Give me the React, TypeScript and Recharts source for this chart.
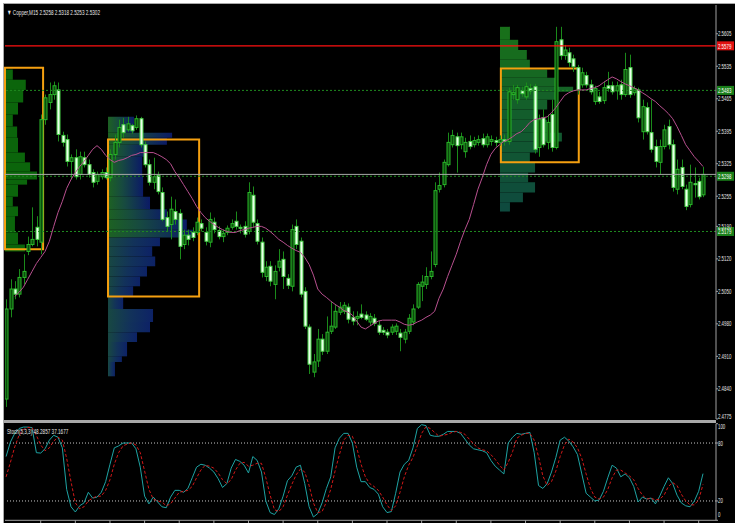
import { ComposedChart, LineChart, Bar, Line, XAxis, YAxis, ReferenceLine, ReferenceArea } from 'recharts'

// Copper M15 candles, one entry per bar (left to right)
const opens = [
  2.4818, 2.5012, 2.5055, 2.5044, 2.5080, 2.5136, 2.5151, 2.5188, 2.5156, 2.5420,
  2.5457, 2.5474, 2.5484, 2.5386, 2.5377, 2.5330, 2.5338, 2.5302, 2.5338, 2.5323,
  2.5306, 2.5287, 2.5297, 2.5306, 2.5295, 2.5345, 2.5371, 2.5409, 2.5398, 2.5407,
  2.5403, 2.5422, 2.5366, 2.5323, 2.5285, 2.5300, 2.5263, 2.5209, 2.5194, 2.5222,
  2.5218, 2.5151, 2.5171, 2.5177, 2.5177, 2.5196, 2.5177, 2.5156, 2.5199, 2.5181,
  2.5168, 2.5177, 2.5188, 2.5201, 2.5188, 2.5190, 2.5179, 2.5257, 2.5196, 2.5156,
  2.5082, 2.5104, 2.5065, 2.5102, 2.5119, 2.5078, 2.5061, 2.5190, 2.5158, 2.5050,
  2.4973, 2.4876, 2.4900, 2.4947, 2.4921, 2.4964, 2.4973, 2.5005, 2.5007, 2.5016,
  2.4994, 2.4992, 2.5001, 2.4999, 2.4984, 2.4992, 2.4977, 2.4966, 2.4962, 2.4962,
  2.4964, 2.4960, 2.4947, 2.4964, 2.4984, 2.5016, 2.5061, 2.5065, 2.5082, 2.5108,
  2.5270, 2.5280, 2.5323, 2.5366, 2.5383, 2.5366, 2.5351, 2.5373, 2.5366, 2.5371,
  2.5379, 2.5366, 2.5373, 2.5375, 2.5371, 2.5377, 2.5373, 2.5474, 2.5463, 2.5482,
  2.5469, 2.5487, 2.5491, 2.5360, 2.5424, 2.5371, 2.5431, 2.5360, 2.5592, 2.5558,
  2.5564, 2.5551, 2.5532, 2.5495, 2.5515, 2.5495, 2.5459, 2.5469, 2.5461, 2.5493,
  2.5493, 2.5482, 2.5495, 2.5474, 2.5532, 2.5478, 2.5484, 2.5394, 2.5446, 2.5392,
  2.5362, 2.5328, 2.5362, 2.5405, 2.5366, 2.5270, 2.5317, 2.5270, 2.5237, 2.5282,
  2.5287, 2.5258,
]
const highs = [
  2.5033, 2.5076, 2.5072, 2.5098, 2.5130, 2.5168, 2.5231, 2.5212, 2.5431, 2.5474,
  2.5500, 2.5502, 2.5500, 2.5394, 2.5388, 2.5345, 2.5356, 2.5351, 2.5351, 2.5334,
  2.5313, 2.5308, 2.5313, 2.5317, 2.5356, 2.5388, 2.5420, 2.5424, 2.5426, 2.5411,
  2.5429, 2.5426, 2.5373, 2.5334, 2.5338, 2.5308, 2.5274, 2.5222, 2.5254, 2.5248,
  2.5227, 2.5183, 2.5183, 2.5188, 2.5209, 2.5205, 2.5188, 2.5220, 2.5209, 2.5190,
  2.5183, 2.5192, 2.5205, 2.5222, 2.5194, 2.5201, 2.5285, 2.5276, 2.5205, 2.5166,
  2.5115, 2.5115, 2.5106, 2.5141, 2.5136, 2.5087, 2.5194, 2.5205, 2.5166, 2.5059,
  2.4979, 2.4915, 2.4969, 2.4958, 2.4996, 2.5027, 2.5022, 2.5027, 2.5027, 2.5024,
  2.5007, 2.5007, 2.5022, 2.5007, 2.5003, 2.5001, 2.4986, 2.4973, 2.4969, 2.4979,
  2.4981, 2.4969, 2.4969, 2.5001, 2.5022, 2.5070, 2.5085, 2.5102, 2.5136, 2.5285,
  2.5306, 2.5334, 2.5392, 2.5398, 2.5392, 2.5392, 2.5381, 2.5386, 2.5383, 2.5386,
  2.5390, 2.5390, 2.5386, 2.5383, 2.5386, 2.5388, 2.5489, 2.5495, 2.5495, 2.5491,
  2.5500, 2.5497, 2.5497, 2.5431, 2.5442, 2.5431, 2.5463, 2.5620, 2.5620, 2.5581,
  2.5575, 2.5560, 2.5538, 2.5532, 2.5523, 2.5506, 2.5493, 2.5480, 2.5502, 2.5523,
  2.5502, 2.5502, 2.5506, 2.5564, 2.5560, 2.5493, 2.5489, 2.5463, 2.5457, 2.5463,
  2.5377, 2.5377, 2.5409, 2.5420, 2.5377, 2.5334, 2.5334, 2.5280, 2.5323, 2.5317,
  2.5295, 2.5318,
]
const lows = [
  2.4801, 2.4994, 2.5033, 2.5037, 2.5065, 2.5128, 2.5147, 2.5147, 2.5130, 2.5409,
  2.5442, 2.5463, 2.5373, 2.5362, 2.5319, 2.5291, 2.5291, 2.5291, 2.5317, 2.5295,
  2.5274, 2.5280, 2.5291, 2.5291, 2.5287, 2.5334, 2.5360, 2.5381, 2.5394, 2.5390,
  2.5398, 2.5360, 2.5317, 2.5278, 2.5270, 2.5259, 2.5201, 2.5179, 2.5162, 2.5194,
  2.5119, 2.5141, 2.5149, 2.5158, 2.5171, 2.5179, 2.5149, 2.5145, 2.5175, 2.5162,
  2.5156, 2.5171, 2.5183, 2.5183, 2.5175, 2.5166, 2.5173, 2.5188, 2.5151, 2.5080,
  2.5072, 2.5061, 2.5033, 2.5093, 2.5055, 2.5055, 2.5050, 2.5141, 2.5037, 2.4969,
  2.4872, 2.4865, 2.4887, 2.4913, 2.4915, 2.4958, 2.4969, 2.4999, 2.5001, 2.4981,
  2.4977, 2.4977, 2.4990, 2.4986, 2.4977, 2.4975, 2.4956, 2.4956, 2.4949, 2.4956,
  2.4956, 2.4921, 2.4938, 2.4958, 2.4977, 2.5012, 2.5029, 2.5055, 2.5076, 2.5102,
  2.5263, 2.5274, 2.5319, 2.5360, 2.5306, 2.5356, 2.5338, 2.5356, 2.5360, 2.5364,
  2.5360, 2.5360, 2.5364, 2.5362, 2.5364, 2.5364, 2.5366, 2.5463, 2.5454, 2.5469,
  2.5463, 2.5474, 2.5347, 2.5340, 2.5360, 2.5356, 2.5351, 2.5356, 2.5549, 2.5549,
  2.5534, 2.5523, 2.5474, 2.5489, 2.5489, 2.5474, 2.5452, 2.5454, 2.5454, 2.5480,
  2.5474, 2.5463, 2.5463, 2.5469, 2.5467, 2.5472, 2.5414, 2.5377, 2.5388, 2.5349,
  2.5317, 2.5302, 2.5356, 2.5356, 2.5265, 2.5259, 2.5270, 2.5225, 2.5231, 2.5252,
  2.5248, 2.5253,
]
const closes = [
  2.5012, 2.5055, 2.5044, 2.5080, 2.5093, 2.5151, 2.5162, 2.5162, 2.5420, 2.5467,
  2.5474, 2.5493, 2.5388, 2.5371, 2.5330, 2.5338, 2.5297, 2.5340, 2.5323, 2.5302,
  2.5285, 2.5302, 2.5306, 2.5295, 2.5345, 2.5371, 2.5403, 2.5392, 2.5411, 2.5396,
  2.5422, 2.5366, 2.5323, 2.5285, 2.5297, 2.5265, 2.5205, 2.5190, 2.5227, 2.5205,
  2.5147, 2.5171, 2.5162, 2.5166, 2.5199, 2.5186, 2.5158, 2.5205, 2.5183, 2.5168,
  2.5175, 2.5186, 2.5196, 2.5190, 2.5186, 2.5173, 2.5263, 2.5199, 2.5158, 2.5091,
  2.5102, 2.5072, 2.5093, 2.5115, 2.5082, 2.5063, 2.5183, 2.5151, 2.5044, 2.4975,
  2.4893, 2.4898, 2.4947, 2.4921, 2.4962, 2.4975, 2.5007, 2.5016, 2.5020, 2.4990,
  2.4986, 2.4996, 2.4994, 2.4990, 2.4996, 2.4981, 2.4962, 2.4962, 2.4956, 2.4973,
  2.4975, 2.4951, 2.4962, 2.4992, 2.5012, 2.5065, 2.5070, 2.5082, 2.5093, 2.5267,
  2.5278, 2.5328, 2.5371, 2.5386, 2.5364, 2.5383, 2.5371, 2.5362, 2.5375, 2.5377,
  2.5366, 2.5383, 2.5377, 2.5371, 2.5377, 2.5373, 2.5480, 2.5478, 2.5489, 2.5476,
  2.5491, 2.5482, 2.5356, 2.5420, 2.5366, 2.5414, 2.5360, 2.5588, 2.5558, 2.5570,
  2.5543, 2.5534, 2.5484, 2.5521, 2.5495, 2.5480, 2.5487, 2.5459, 2.5489, 2.5487,
  2.5480, 2.5493, 2.5474, 2.5528, 2.5474, 2.5487, 2.5424, 2.5448, 2.5394, 2.5356,
  2.5330, 2.5362, 2.5398, 2.5366, 2.5274, 2.5313, 2.5276, 2.5233, 2.5285, 2.5280,
  2.5254, 2.5302,
]
// pink moving average
const maValues = [
  null, null, 2.5039, 2.5048, 2.5059, 2.5076, 2.5093, 2.5110, 2.5123, 2.5136,
  2.5158, 2.5190, 2.5220, 2.5244, 2.5272, 2.5291, 2.5306, 2.5319, 2.5330, 2.5343,
  2.5356, 2.5364, 2.5356, 2.5343, 2.5334, 2.5328, 2.5332, 2.5334, 2.5338, 2.5343,
  2.5345, 2.5349, 2.5349, 2.5349, 2.5349, 2.5345, 2.5340, 2.5334, 2.5325, 2.5308,
  2.5295, 2.5280, 2.5265, 2.5250, 2.5233, 2.5220, 2.5209, 2.5201, 2.5194, 2.5188,
  2.5183, 2.5179, 2.5177, 2.5177, 2.5181, 2.5183, 2.5186, 2.5188, 2.5190, 2.5190,
  2.5186, 2.5179, 2.5171, 2.5162, 2.5156, 2.5149, 2.5143, 2.5138, 2.5134, 2.5123,
  2.5108, 2.5085, 2.5055, 2.5044, 2.5037, 2.5029, 2.5022, 2.5016, 2.5009, 2.5005,
  2.4999, 2.4986, 2.4973, 2.4969, 2.4975, 2.4981, 2.4986, 2.4988, 2.4988, 2.4988,
  2.4988, 2.4984, 2.4979, 2.4977, 2.4979, 2.4984, 2.4988, 2.4994, 2.4999, 2.5007,
  2.5035, 2.5055, 2.5082, 2.5106, 2.5130, 2.5158, 2.5183, 2.5205, 2.5237, 2.5270,
  2.5295, 2.5323, 2.5345, 2.5358, 2.5366, 2.5373, 2.5377, 2.5383, 2.5390, 2.5394,
  2.5403, 2.5414, 2.5420, 2.5422, 2.5424, 2.5426, 2.5435, 2.5446, 2.5459, 2.5472,
  2.5478, 2.5482, 2.5484, 2.5484, 2.5484, 2.5487, 2.5489, 2.5493, 2.5500, 2.5506,
  2.5512, 2.5508, 2.5502, 2.5497, 2.5493, 2.5489, 2.5484, 2.5478, 2.5472, 2.5465,
  2.5459, 2.5450, 2.5442, 2.5433, 2.5422, 2.5405, 2.5386, 2.5366, 2.5353, 2.5340,
  2.5330, 2.5319,
]
// Stoch(5,3,3)
const stochMain = [
  66, 81, 90, 95, 96.5, 96.5, 96, 70, 69.6, 74,
  83, 88, 86, 75, 32, 14, 8.6, 15, 18, 29,
  23, 24, 29, 40, 58, 75, 77, 80, 80, 80,
  74, 55, 25, 17, 24, 19, 14, 13, 24, 31,
  31, 29, 33, 44, 55, 58, 57, 54, 50, 43,
  34, 38, 54, 63, 61, 57, 49, 66, 62, 50,
  20, 8, 6, 12, 25, 41, 46, 55, 57, 38,
  14, 3.4, 7, 18, 33, 45, 75, 85, 90, 90,
  80, 55, 40, 40, 34, 32, 27, 14, 8, 9,
  28, 50, 58, 62, 75, 95, 99, 98, 88, 87,
  87, 89, 92, 92, 92, 90, 84, 78, 74, 73,
  72, 70, 62, 56, 52, 48, 80, 86, 90, 89,
  90, 91, 70, 36, 33, 38, 50, 65, 83, 86,
  82, 76, 68, 48, 28, 24, 20, 21, 30, 44,
  57, 54, 45, 48, 44, 35, 19, 24, 22, 23,
  17, 25, 35, 44, 38, 26, 18, 15, 14, 20,
  30, 48.2857,
]
const stochSignal = [
  45, 60, 76, 88, 94, 96, 96, 88, 78, 72,
  75, 82, 86, 83, 64, 40, 18, 12, 14, 20,
  23, 25, 25, 31, 42, 58, 70, 77, 79, 80,
  78, 70, 51, 32, 22, 20, 19, 15, 17, 23,
  29, 30, 31, 35, 44, 52, 57, 56, 54, 49,
  42, 38, 42, 52, 59, 60, 56, 57, 59, 59,
  44, 26, 11, 9, 14, 26, 37, 47, 53, 50,
  36, 18, 8, 9, 19, 32, 51, 68, 83, 88,
  87, 75, 58, 45, 38, 35, 31, 24, 16, 10,
  15, 29, 45, 57, 65, 77, 90, 97, 95, 91,
  87, 88, 89, 91, 92, 91, 89, 84, 79, 75,
  73, 72, 68, 63, 57, 52, 60, 71, 85, 88,
  90, 90, 83, 66, 46, 36, 40, 51, 66, 78,
  84, 81, 75, 64, 48, 33, 24, 22, 24, 32,
  44, 52, 52, 49, 46, 42, 33, 26, 22, 23,
  21, 22, 26, 35, 39, 36, 27, 20, 16, 16,
  21, 37.1677,
]

const priceTicks = [2.4775, 2.484, 2.491, 2.498, 2.505, 2.512, 2.519, 2.5255, 2.5325, 2.5395, 2.5465, 2.5535, 2.5605]
const stochTicks = [0, 20, 80, 100]
const stochLevels = [20, 80]
const timeTicks = [8, 16, 24, 32, 40, 48, 56, 64, 72, 80, 88, 96, 104, 112, 120, 128, 136, 144, 152, 160]

// volume profiles: start bar, price row edges (top→bottom), row lengths in bars
const p1Start = -0.25
const p1Edges = [2.5528, 2.5506, 2.5484, 2.5457, 2.5431, 2.5405, 2.5381, 2.5349, 2.5328, 2.5308, 2.5291, 2.528, 2.5254, 2.5233, 2.5212, 2.5177, 2.5151, 2.5136]
const p1Widths = [1.8, 4.8, 4.2, 3.0, 1.8, 2.8, 3.0, 4.6, 5.8, 7.4, 5.1, 3.0, 1.8, 3.0, 2.3, 3.0, 4.6]
const p2Start = 23.55
const p2Edges = [2.5426, 2.5392, 2.5381, 2.5366, 2.534, 2.5297, 2.5254, 2.5227, 2.5205, 2.5183, 2.5166, 2.5147, 2.5125, 2.5104, 2.5082, 2.5061, 2.5039, 2.5012, 2.4984, 2.4962, 2.4941, 2.491, 2.4898, 2.4867]
const p2Widths = [6.0, 14.8, 13.6, 9.0, 7.9, 8.1, 9.7, 13.6, 18.2, 19.6, 12.0, 10.2, 10.9, 9.0, 7.4, 5.8, 3.5, 10.4, 9.7, 6.7, 4.4, 3.2, 1.6]
const p3Start = 114.1
const p3Edges = [2.562, 2.5592, 2.557, 2.5549, 2.5528, 2.551, 2.5491, 2.548, 2.5463, 2.5442, 2.542, 2.5392, 2.5373, 2.5349, 2.5328, 2.5306, 2.5285, 2.5263, 2.5242, 2.5222]
const p3Widths = [2.3, 4.2, 6.2, 6.9, 10.9, 12.7, 16.9, 13.2, 10.9, 8.8, 10.9, 14.3, 8.8, 6.9, 8.1, 6.5, 8.1, 5.3, 2.3]

// orange value-area boxes
const boxLeft = [-0.25, 23.55, 114.3]
const boxRight = [8.55, 44.6, 132.3]
const boxTop = [2.5532, 2.5377, 2.553]
const boxBottom = [2.5141, 2.5039, 2.5328]

const FONT = '"Liberation Sans", Arial, sans-serif'
const X_DOMAIN: [number, number] = [-0.25, 164]
const Y_DOMAIN: [number, number] = [2.4775, 2.5667]

function mix(a: number[], b: number[], t: number) {
  const c = a.map((v, k) => Math.round(v + (b[k] - v) * t))
  return `rgb(${c[0]},${c[1]},${c[2]})`
}

// MT4 draws its labels in a very narrow face: squeeze horizontally
function Tiny({ x, y, children, fill = '#e6e6e6', sx = 0.58 }: any) {
  return (
    <text transform={`translate(${x},${y}) scale(${sx},1)`} fill={fill} fontSize={7.5} fontFamily={FONT}>
      {children}
    </text>
  )
}

function Candle(props: any) {
  const { x, y, width, height, payload } = props
  const { open, close, high, low } = payload
  const span = high - low
  const toY = (v: number) => (span > 0 ? y + ((high - v) / span) * height : y)
  const cx = Math.round(x + width / 2) + 0.5
  const yo = toY(open)
  const yc = toY(close)
  const bull = close >= open
  const top = Math.min(yo, yc)
  const bh = Math.max(Math.abs(yc - yo), 1)
  return (
    <g>
      <line x1={cx} x2={cx} y1={y} y2={y + height} stroke="#1a8a1a" strokeWidth={1} />
      <rect
        x={cx - 1.5}
        y={top}
        width={3}
        height={bh}
        fill={bull ? '#0c4c0c' : '#eaffea'}
        stroke={bull ? '#29b529' : '#45d045'}
        strokeWidth={1}
      />
    </g>
  )
}

function PriceTick({ x, y, payload }: any) {
  // the lowest label sits on the separator, keep it inside the pane
  const dy = payload.value === Y_DOMAIN[0] ? -0.5 : 2.5
  return <Tiny x={x} y={y + dy}>{payload.value.toFixed(4)}</Tiny>
}

function StochTick({ x, y, payload }: any) {
  const v = payload.value
  const dy = v === 100 ? 5.5 : v === 0 ? -3 : 2.5
  return <Tiny x={x} y={y + dy}>{String(v)}</Tiny>
}

function LevelTag({ viewBox, tag, bg }: any) {
  if (!viewBox) return null
  const x = viewBox.x + viewBox.width + 1
  const y = viewBox.y
  return (
    <g>
      <rect x={x} y={y - 4.5} width={17} height={9} fill={bg} />
      <Tiny x={x + 1} y={y + 2.8} fill="#ffffff">{tag}</Tiny>
    </g>
  )
}

export default function App() {
  const candles = opens.map((o, i) => ({
    i,
    open: o,
    high: highs[i],
    low: lows[i],
    close: closes[i],
    range: [lows[i], highs[i]],
    ma: maValues[i],
  }))
  const stoch = stochMain.map((v, i) => ({ i, main: v, signal: stochSignal[i] }))

  return (
    <div style={{ position: 'absolute', left: 0, top: 0, width: 735, height: 523, background: '#ffffff', overflow: 'hidden' }}>
      <div style={{ position: 'absolute', left: 3, top: 3, width: 732, height: 520, background: '#000000', borderLeft: '1px solid #a8a8a8', borderTop: '1px solid #a8a8a8', boxSizing: 'border-box' }} />

      <div style={{ position: 'absolute', left: 0, top: 0 }}>
        <ComposedChart width={735} height={420} data={candles} margin={{ top: 5, right: 0, left: 5, bottom: 1 }}>
          <defs>
            <linearGradient id="p2top" x1="0" y1="0" x2="1" y2="0">
              <stop offset="0" stopColor="#1d6222" />
              <stop offset="0.4" stopColor="#174a40" />
              <stop offset="1" stopColor="#0b1a66" />
            </linearGradient>
            <linearGradient id="p2low" x1="0" y1="0" x2="1" y2="0">
              <stop offset="0" stopColor="#184842" />
              <stop offset="0.5" stopColor="#12325a" />
              <stop offset="1" stopColor="#0d2266" />
            </linearGradient>
          </defs>
          <XAxis type="number" dataKey="i" domain={X_DOMAIN} hide allowDataOverflow />
          <YAxis
            orientation="right"
            width={19}
            type="number"
            domain={Y_DOMAIN}
            allowDataOverflow
            ticks={priceTicks}
            interval={0}
            tick={<PriceTick />}
            tickSize={2}
            tickMargin={0}
            axisLine={{ stroke: '#a0a0a0' }}
            tickLine={{ stroke: '#a0a0a0' }}
          />

          {p1Widths.map((w, k) => (
            <ReferenceArea key={'p1' + k} x1={p1Start} x2={p1Start + w} y1={p1Edges[k + 1]} y2={p1Edges[k]} fill="#0b650b" fillOpacity={1} stroke="none" ifOverflow="visible" />
          ))}
          {p2Widths.map((w, k) => (
            <ReferenceArea
              key={'p2' + k}
              x1={p2Start}
              x2={p2Start + w}
              y1={p2Edges[k + 1]}
              y2={p2Edges[k]}
              fill={k < 10 ? 'url(#p2top)' : 'url(#p2low)'}
              fillOpacity={1}
              stroke="none"
            />
          ))}
          {p3Widths.map((w, k) => (
            <ReferenceArea
              key={'p3' + k}
              x1={p3Start}
              x2={p3Start + w}
              y1={p3Edges[k + 1]}
              y2={p3Edges[k]}
              fill={mix([24, 112, 26], [14, 74, 62], k / (p3Widths.length - 1))}
              fillOpacity={1}
              stroke="none"
            />
          ))}
          {boxLeft.map((b, k) => (
            <ReferenceArea key={'box' + k} x1={b} x2={boxRight[k]} y1={boxBottom[k]} y2={boxTop[k]} fill="none" fillOpacity={0} stroke="#f5a010" strokeWidth={2} ifOverflow="visible" />
          ))}

          <ReferenceLine y={2.5579} stroke="#ff1010" strokeWidth={1.4} label={<LevelTag tag="2.5579" bg="#e01010" />} />
          <ReferenceLine y={2.5483} stroke="#1f8a1f" strokeDasharray="2 2" label={<LevelTag tag="2.5483" bg="#1a7f1a" />} />
          <ReferenceLine y={2.5302} stroke="#a8a8a8" strokeWidth={1} />
          <ReferenceLine y={2.5298} stroke="#1f8a1f" strokeDasharray="2 2" label={<LevelTag tag="2.5298" bg="#1a7f1a" />} />
          <ReferenceLine y={2.5179} stroke="#1f8a1f" strokeDasharray="2 2" label={<LevelTag tag="2.5179" bg="#1a7f1a" />} />

          <Bar dataKey="range" barSize={3} shape={<Candle />} isAnimationActive={false} />
          <Line dataKey="ma" type="linear" stroke="#b8508f" strokeWidth={1} dot={false} activeDot={false} isAnimationActive={false} />
        </ComposedChart>
      </div>

      <div style={{ position: 'absolute', left: 0, top: 422 }}>
        <LineChart width={735} height={101} data={stoch} margin={{ top: 1.7, right: 0, left: 5, bottom: 0 }}>
          <XAxis
            type="number"
            dataKey="i"
            domain={X_DOMAIN}
            allowDataOverflow
            ticks={timeTicks}
            interval={0}
            height={2.7}
            tickSize={3}
            tick={() => <g />}
            axisLine={{ stroke: '#a0a0a0' }}
            tickLine={{ stroke: '#a0a0a0' }}
          />
          <YAxis
            orientation="right"
            width={19}
            type="number"
            domain={[0, 100]}
            ticks={stochTicks}
            interval={0}
            tick={<StochTick />}
            tickSize={2}
            tickMargin={0}
            axisLine={{ stroke: '#a0a0a0' }}
            tickLine={{ stroke: '#a0a0a0' }}
          />
          {stochLevels.map((v) => (
            <ReferenceLine key={v} y={v} stroke="#c8c8c8" strokeDasharray="1 2" />
          ))}
          <Line dataKey="main" type="linear" stroke="#1ea3a3" strokeWidth={1} dot={false} activeDot={false} isAnimationActive={false} />
          <Line dataKey="signal" type="linear" stroke="#d01818" strokeWidth={1} strokeDasharray="3 2" dot={false} activeDot={false} isAnimationActive={false} />
        </LineChart>
      </div>

      <div style={{ position: 'absolute', left: 4, top: 419.5, width: 712, height: 3, background: '#a8a8a8' }} />

      <svg width={735} height={523} style={{ position: 'absolute', left: 0, top: 0, pointerEvents: 'none' }}>
        <Tiny x={7} y={14.5} fill="#e8e8e8" sx={0.62}>{'\u25BC Copper,M15  2.5258 2.5318 2.5253 2.5302'}</Tiny>
        <Tiny x={7} y={433.5} fill="#e8e8e8" sx={0.62}>Stoch(5,3,3) 48.2857 37.1677</Tiny>
      </svg>
    </div>
  )
}
